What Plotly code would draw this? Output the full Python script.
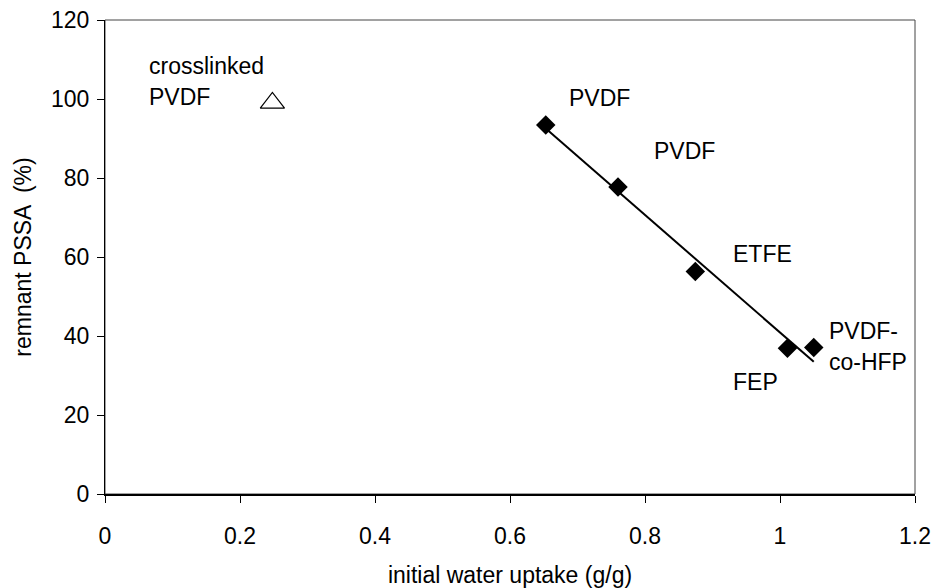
import numpy as np
import plotly.graph_objects as go

# ---- data ----
membrane_x = [0.653, 0.760, 0.8745, 1.011, 1.050]   # initial water uptake (g/g)
membrane_y = [93.4, 77.7, 56.3, 36.9, 37.1]        # remnant PSSA (%)
crosslinked_x = [0.248]
crosslinked_y = [99.0]

label_texts = ["crosslinked", "PVDF", "PVDF", "PVDF", "ETFE", "PVDF-", "co-HFP", "FEP"]
label_x = [0.062, 0.062, 0.684, 0.811, 0.927, 1.070, 1.070, 0.927]
label_y = [108.3, 100.4, 100.2, 86.9, 60.7, 41.3, 33.5, 28.4]

x_ticks = [0, 0.2, 0.4, 0.6, 0.8, 1, 1.2]
y_ticks = [0, 20, 40, 60, 80, 100, 120]

FONT = "Liberation Sans, Arial, sans-serif"
FS = 23

# linear fit through membrane data
slope, intercept = np.polyfit(membrane_x, membrane_y, 1)
fit_x = np.array([min(membrane_x), max(membrane_x)])
fit_y = slope * fit_x + intercept

fig = go.Figure()
fig.add_trace(go.Scatter(x=fit_x, y=fit_y, mode="lines",
                         line=dict(color="black", width=2), showlegend=False))
fig.add_trace(go.Scatter(x=membrane_x, y=membrane_y, mode="markers",
                         marker=dict(symbol="diamond", size=15, color="black"),
                         showlegend=False))
fig.add_trace(go.Scatter(x=crosslinked_x, y=crosslinked_y, mode="markers",
                         marker=dict(symbol="triangle-up-open", size=21, color="black",
                                     line=dict(color="black", width=1.2)),
                         showlegend=False))

for t, lx, ly in zip(label_texts, label_x, label_y):
    fig.add_annotation(x=lx, y=ly, xref="x", yref="y", text=t, showarrow=False,
                       xanchor="left", yanchor="middle",
                       font=dict(family=FONT, size=FS, color="black"))

# plot frame
fig.add_shape(type="rect", xref="paper", yref="paper", x0=0, y0=0, x1=1, y1=1,
              line=dict(color="#444444", width=1), layer="below")

fig.update_layout(
    width=933, height=588,
    margin=dict(l=105, r=18, t=20, b=94),
    paper_bgcolor="white", plot_bgcolor="white",
    font=dict(family=FONT, size=FS, color="black"),
    xaxis=dict(range=[0, 1.2], tickvals=x_ticks, ticktext=[f"{v:g}" for v in x_ticks],
               showgrid=False, zeroline=False, showline=True, linecolor="black", linewidth=2,
               ticks="outside", ticklen=7, tickcolor="black", tickwidth=1,
               ticklabelstandoff=13, automargin=False,
               title=dict(text="initial water uptake (g/g)", standoff=20,
                          font=dict(family=FONT, size=FS))),
    yaxis=dict(range=[0, 120], tickvals=y_ticks, showgrid=False, zeroline=False,
               showline=True, linecolor="black", linewidth=1,
               ticks="outside", ticklen=7, tickcolor="black", tickwidth=1,
               ticklabelstandoff=3, automargin=False,
               title=dict(text="remnant PSSA  (%)", standoff=12,
                          font=dict(family=FONT, size=FS))),
)

fig.write_html("out.html")
